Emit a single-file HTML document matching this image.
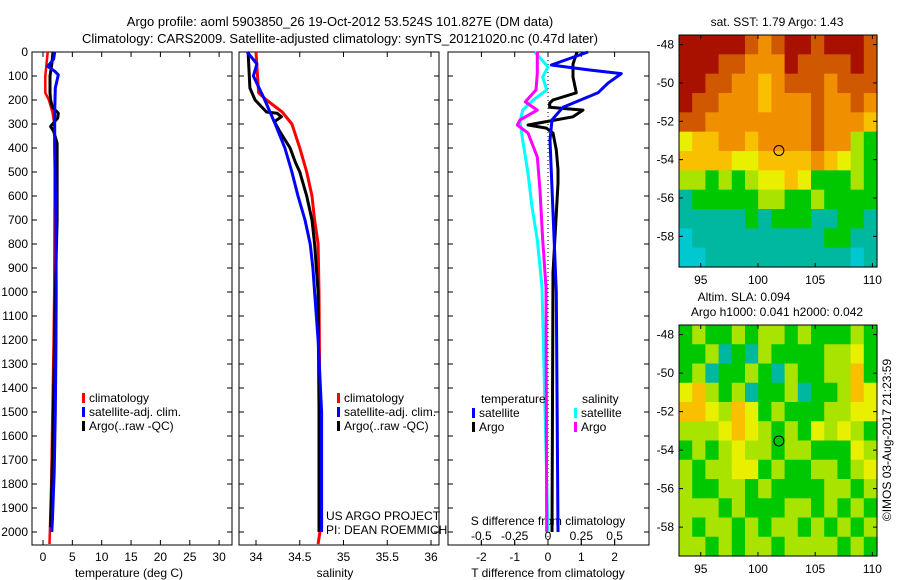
<!DOCTYPE html>
<html><head><meta charset="utf-8"><style>
body{margin:0;background:#fff}
svg{display:block;font-family:"Liberation Sans",sans-serif;font-size:12px}
</style></head><body>
<svg id="s" width="900" height="580" viewBox="0 0 900 580">
<text x="340" y="26" text-anchor="middle" font-size="13">Argo profile: aoml 5903850_26 19-Oct-2012 53.524S 101.827E (DM data)</text>
<text x="340" y="43" text-anchor="middle" font-size="13">Climatology: CARS2009. Satellite-adjusted climatology: synTS_20121020.nc (0.47d later)</text>
<text x="129" y="577" text-anchor="middle">temperature (deg C)</text>
<text x="335" y="577" text-anchor="middle">salinity</text>
<text x="548" y="577" text-anchor="middle">T difference from climatology</text>
<text x="548" y="525" text-anchor="middle">S difference from climatology</text>
<text x="326" y="520">US ARGO PROJECT</text>
<text x="326" y="534">PI: DEAN ROEMMICH</text>
<text x="777" y="26" text-anchor="middle">sat. SST: 1.79 Argo: 1.43</text>
<text x="744" y="301" text-anchor="middle">Altim. SLA: 0.094</text>
<text x="777" y="316" text-anchor="middle">Argo h1000: 0.041 h2000: 0.042</text>
<text transform="translate(891,440) rotate(-90)" text-anchor="middle">©IMOS 03-Aug-2017 21:23:59</text>
<g id="g"></g>
</svg>
<script>
const depthTicks=[0,100,200,300,400,500,600,700,800,900,1000,1100,1200,1300,1400,1500,1600,1700,1800,1900,2000];
const tTicks=[0,5,10,15,20,25,30];
const sTicks=[34,34.5,35,35.5,36];
const dtTicks=[-2,-1,0,1,2];
const dsTicks=[-0.5,-0.25,0,0.25,0.5];
const dsTickLabels=["-0.5","-0.25","0","0.25","0.5"];
const climTDepth=[0,50,100,170,200,250,300,500,1000,1200,1500,1800,2050];
const climT=[0.8,0.6,0.4,0.4,1.0,1.6,1.95,2.0,1.9,1.8,1.6,1.4,1.1];
const satTDepth=[0,30,60,80,95,150,250,400,700,1000,1250,1500,1750,1950,2000];
const satT=[2.0,1.8,0.8,2.0,2.6,2.1,2.0,2.0,2.2,2.25,2.2,2.1,1.9,1.6,1.5];
const argoTDepth=[0,50,100,170,200,230,255,275,295,310,330,380,500,700,1000,1300,1600,1800,1980];
const argoT=[1.7,1.5,1.2,1.2,1.3,1.6,2.6,2.5,1.8,1.3,1.8,2.4,2.4,2.4,2.1,1.9,1.7,1.5,1.3];
const climSDepth=[0,170,200,250,300,400,500,600,700,800,1000,1500,2000,2050];
const climS=[34.0,34.03,34.12,34.3,34.41,34.5,34.58,34.64,34.67,34.71,34.72,34.73,34.73,34.71];
const satSDepth=[0,50,100,200,300,400,500,600,700,800,900,1000,1200,1500,2000];
const satS=[33.9,34.01,33.97,34.1,34.22,34.33,34.41,34.48,34.56,34.62,34.65,34.67,34.71,34.75,34.75];
const argoSDepth=[0,150,200,250,255,270,290,330,400,460,500,600,700,800,1000,1500,2000];
const argoS=[33.91,33.93,33.99,34.12,34.24,34.29,34.21,34.27,34.39,34.45,34.5,34.58,34.64,34.67,34.71,34.72,34.72];
const dSatTDepth=[0,54,75,90,130,170,230,283,367,1000,2000];
const dSatT=[1.2,0.1,1.25,2.2,1.8,1.5,0.45,0.12,0.06,0.25,0.3];
const dArgoTDepth=[0,50,104,170,200,213,230,242,270,290,304,317,338,408,490,546,920,2000];
const dArgoT=[0.87,0.75,0.75,0.85,0.15,0.05,0.05,1.05,0.75,-0.05,-0.6,-0.05,0.15,0.25,0.3,0.3,0.15,0.12];
const dSatSDepth=[0,62,104,158,200,242,290,367,506,645,783,980,2000];
const dSatS=[-0.1,0,-0.04,-0.01,-0.11,-0.19,-0.21,-0.19,-0.15,-0.12,-0.08,-0.045,0];
const dArgoSDepth=[0,90,158,208,242,283,304,338,437,576,783,980,2000];
const dArgoS=[-0.08,-0.08,-0.09,-0.17,-0.08,-0.21,-0.23,-0.15,-0.08,-0.06,-0.04,-0.015,-0.01];
const mapLatTicks=[-48,-50,-52,-54,-56,-58];
const mapLonTicks=[95,100,105,110];
const sstGrid=["999998789989998","999887779888898","998877678887888","988777677787787","887777777787776","566776777787743","666655666676543","443434556533343","233333443343333","222223233322332","122222222223322","112222222222212"];
const slaGrid=["343343443433343","334232433334453","342334324334463","564342334233465","665465343334455","444565434354543","343454434433354","434455343344345","433443433334434","444343334434343","434434344343434","443434434444343"];
const palette=["#40b0ff","#00c8d0","#00b8a0","#00c800","#a8e400","#e8f000","#f8c000","#f09000","#d05800","#a81000"];
const argoLat=-53.524, argoLon=101.827;

const NS="http://www.w3.org/2000/svg", G=document.getElementById('g');
function mk(t,a,p){const e=document.createElementNS(NS,t);for(const k in a)e.setAttribute(k,a[k]);(p||G).appendChild(e);return e;}
const Y0=52,Y1=545; const yD=d=>Y0+d*0.24;
const P1={l:32,r:232}, P2={l:239,r:439}, P3={l:448,r:649};
const xT=t=>43+t*5.87, xS=s=>256+(s-34)*87.5, xDT=v=>548+v*33.3, xDS=v=>548+v*133.3;

function frame(p,name){
  const r=mk('rect',{x:p.l,y:Y0,width:p.r-p.l,height:Y1-Y0,fill:'none',stroke:'#000','stroke-width':1});
  
  
  depthTicks.forEach(d=>{mk('line',{x1:p.l,x2:p.l+5,y1:yD(d),y2:yD(d),stroke:'#000'});mk('line',{x1:p.r,x2:p.r-5,y1:yD(d),y2:yD(d),stroke:'#000'});});
}
function xticks(vals,fx,labels,yl,top){
  vals.forEach((v,i)=>{const x=fx(v);
    mk('line',{x1:x,x2:x,y1:Y1,y2:Y1-5,stroke:'#000'});
    if(top)mk('line',{x1:x,x2:x,y1:Y0,y2:Y0+5,stroke:'#000'});
    const t=mk('text',{x:x,y:yl,'text-anchor':'middle'});t.textContent=labels?labels[i]:String(v);
    
    
  });
}
frame(P1,'temperature-panel');frame(P2,'salinity-panel');frame(P3,'difference-panel');
depthTicks.forEach(d=>{const t=mk('text',{x:28,y:yD(d)+4,'text-anchor':'end'});t.textContent=d;
  
  });
xticks(tTicks,xT,null,561,true);xticks(sTicks,xS,null,561,true);
xticks(dtTicks,xDT,null,561,true);xticks(dsTicks,xDS,dsTickLabels,540,false);
mk('line',{x1:xDT(0),x2:xDT(0),y1:Y0,y2:Y1,stroke:'#000','stroke-dasharray':'1,3'});

function line(depths,vals,fx,col,w,name){
  const pts=depths.map((d,i)=>fx(vals[i]).toFixed(1)+','+yD(d).toFixed(1)).join(' ');
  const e=mk('polyline',{points:pts,fill:'none',stroke:col,'stroke-width':w,'stroke-linejoin':'round'});
  
  
}
line(climTDepth,climT,xT,'#f00',2.5,'temp-climatology-line');
line(argoTDepth,argoT,xT,'#000',3,'temp-argo-line');
line(satTDepth,satT,xT,'#00f',3,'temp-satellite-line');
line(climSDepth,climS,xS,'#f00',3,'sal-climatology-line');
line(argoSDepth,argoS,xS,'#000',3,'sal-argo-line');
line(satSDepth,satS,xS,'#00f',3,'sal-satellite-line');
line(dSatSDepth,dSatS,xDS,'#0ff',3,'ds-satellite-line');
line(dArgoSDepth,dArgoS,xDS,'#f0f',3,'ds-argo-line');
line(dArgoTDepth,dArgoT,xDT,'#000',3,'dt-argo-line');
line(dSatTDepth,dSatT,xDT,'#00f',3,'dt-satellite-line');

function leg(x,y,col,label){
  mk('rect',{x:x,y:y-9,width:3,height:10,fill:col});
  const t=mk('text',{x:x+7,y:y});t.textContent=label;
  
  
}
[[82],[337]].forEach(([x])=>{leg(x,402,'#f00','climatology');leg(x,416,'#00f','satellite-adj. clim.');leg(x,430,'#000','Argo(..raw -QC)');});
const th=mk('text',{x:481,y:403});th.textContent='temperature';


const sh=mk('text',{x:582,y:403});sh.textContent='salinity';


leg(472,417,'#00f','satellite');leg(472,431,'#000','Argo');leg(574,417,'#0ff','satellite');leg(574,431,'#f0f','Argo');

function map(grid,top,bot,name,latTop,latBot){
  const L=679,R=877,lonL=93.1,lonR=110.4;
  const fx=lo=>L+(lo-lonL)/(lonR-lonL)*(R-L), fy=la=>top+(latTop-la)/(latTop-latBot)*(bot-top);
  const rows=grid.length,cols=grid[0].length,cw=(R-L)/cols,ch=(bot-top)/rows;
  const g=mk('g',{});
  
  
  grid.forEach((row,i)=>{for(let j=0;j<cols;j++){mk('rect',{x:L+j*cw,y:top+i*ch,width:cw+0.6,height:ch+0.6,fill:palette[+row[j]]},g);}});
  mk('rect',{x:L,y:top,width:R-L,height:bot-top,fill:'none',stroke:'#000'});
  mapLatTicks.forEach(la=>{const y=fy(la);mk('line',{x1:L,x2:L+4,y1:y,y2:y,stroke:'#000'});mk('line',{x1:R,x2:R-4,y1:y,y2:y,stroke:'#000'});
    const t=mk('text',{x:L-5,y:y+4,'text-anchor':'end'});t.textContent=la;
    
    });
  mapLonTicks.forEach(lo=>{const x=fx(lo);mk('line',{x1:x,x2:x,y1:top,y2:top+4,stroke:'#000'});mk('line',{x1:x,x2:x,y1:bot,y2:bot-4,stroke:'#000'});
    const t=mk('text',{x:x,y:bot+17,'text-anchor':'middle'});t.textContent=lo;
    
    });
  const c=mk('circle',{cx:fx(argoLon),cy:fy(argoLat),r:5,fill:'none',stroke:'#000','stroke-width':1});
  
  
}
map(sstGrid,35,267,'sst-map',-47.5,-59.6);
map(slaGrid,325,556,'sla-map',-47.5,-59.5);
</script>
</body></html>
